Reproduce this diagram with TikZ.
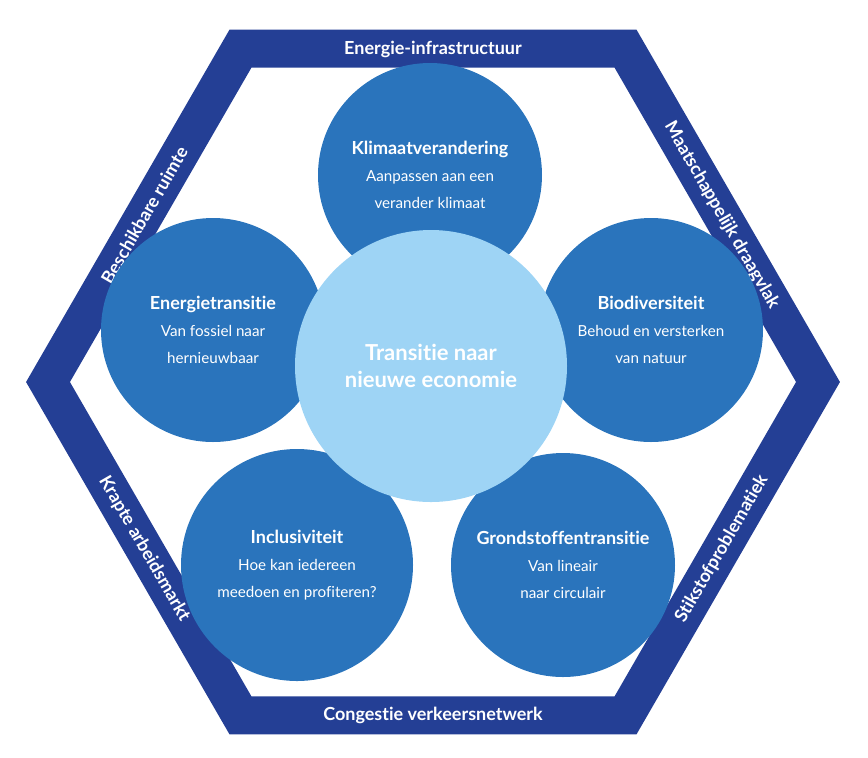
\documentclass[tikz,border=0pt]{standalone}
\usepackage{fontspec}
\setmainfont{Lato}[Ligatures={NoCommon,NoRare,NoDiscretionary}]
\usetikzlibrary{positioning}
\definecolor{bandblue}{HTML}{243F95}
\definecolor{ballblue}{HTML}{2A74BC}
\definecolor{coreblue}{HTML}{9ED4F5}
\tikzset{
  theme/.style={circle,fill=ballblue,minimum size=112pt,inner sep=0pt,text=white,align=center,font=\fontsize{7.6}{13.5}\selectfont},
  edgelabel/.style={text=white,font=\bfseries\fontsize{9}{10}\selectfont,inner sep=0pt}
}
\newcommand{\ttl}[1]{{\bfseries\fontsize{9}{13.5}\selectfont #1}}
\begin{document}
\begin{tikzpicture}[x=0.5pt,y=-0.5pt]
\useasboundingbox (0,0) rectangle (868,757);
% band
\draw [bandblue,line width=19pt,line join=miter]
  (818,382) -- (625.5,48.6) -- (240.5,48.6) -- (48,382) -- (240.5,715.4) -- (625.5,715.4) -- cycle;
\node [edgelabel] (infra) at (433,49) {Energie-infrastructuur};
\node [edgelabel,rotate=-60] (draag) at (721.75,215.3) {Maatschappelijk draagvlak};
\node [edgelabel,rotate=60] (stik) at (721.75,548.7) {Stikstofproblematiek};
\node [edgelabel] (cong) at (433,715.4) {Congestie verkeersnetwerk};
\node [edgelabel,rotate=-60] (krap) at (144.25,548.7) {Krapte arbeidsmarkt};
\node [edgelabel,rotate=60] (ruimte) at (144.25,215.3) {Beschikbare ruimte};
% themes
\node [theme] (klimaat) at (430,175) {\ttl{Klimaatverandering}\\Aanpassen aan een\\verander klimaat};
\node [theme] (energie) at (213,330) {\ttl{Energietransitie}\\Van fossiel naar\\hernieuwbaar};
\node [theme] (bio) at (651,330) {\ttl{Biodiversiteit}\\Behoud en versterken\\van natuur};
\node [theme,minimum size=116pt] (incl) at (297,565) {\ttl{Inclusiviteit}\\Hoe kan iedereen\\meedoen en profiteren?};
\node [theme] (grond) at (563,565) {\ttl{Grondstoffentransitie}\\Van lineair\\naar circulair};
\node [circle,fill=coreblue,minimum size=136pt,inner sep=0pt,text=white,align=center,
  font=\bfseries\fontsize{11}{13.5}\selectfont] (kern) at (431,366) {Transitie naar\\nieuwe economie};
\end{tikzpicture}
\end{document}
